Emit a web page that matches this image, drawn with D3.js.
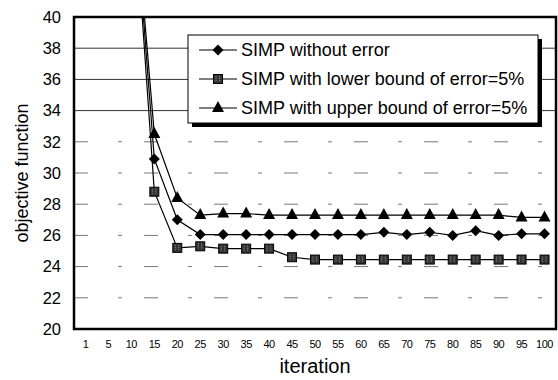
<html>
<head>
<meta charset="UTF-8">
<title>objective function</title>
<script src="https://cdn.jsdelivr.net/npm/d3@7"></script>
<style>
body{margin:0;background:#fff;}
text{font-family:"Liberation Sans",Arial,sans-serif;fill:#000;}
</style>
</head>
<body>
<svg id="chart" width="558" height="380"></svg>
<script>
// iteration categories
var iterations=["1","5","10","15","20","25","30","35","40","45","50","55","60","65","70","75","80","85","90","95","100"];
// objective function values (first points run off the top of the chart)
var noError=[120,80,50,30.9,27.0,26.05,26.05,26.05,26.05,26.05,26.05,26.05,26.05,26.2,26.05,26.2,26.0,26.3,26.0,26.1,26.1];
var lowerBound=[120,80,50,28.8,25.2,25.3,25.15,25.15,25.15,24.6,24.45,24.45,24.45,24.45,24.45,24.45,24.45,24.45,24.45,24.45,24.45];
var upperBound=[120,80,50,32.5,28.4,27.3,27.4,27.4,27.3,27.3,27.3,27.3,27.3,27.3,27.3,27.3,27.3,27.3,27.3,27.15,27.15];
var yTicks=[20,22,24,26,28,30,32,34,36,38,40];
var solidGrid=[34,36,38];
var dashGrid=[22,24,26,28,30,32];
var seriesNames=["SIMP without error","SIMP with lower bound of error=5%","SIMP with upper bound of error=5%"];

var svg=d3.select("#chart");
var pLeft=74,pRight=556,pTop=17,pBottom=329;

var x=d3.scaleBand().domain(iterations).range([pLeft,pRight]);
var y=d3.scaleLinear().domain([20,40]).range([pBottom,pTop]);

// grid
svg.selectAll("line.gs").data(solidGrid).enter().append("line")
    .attr("x1",pLeft).attr("x2",pRight)
    .attr("y1",function(d){return y(d);}).attr("y2",function(d){return y(d);})
    .attr("stroke","#333").attr("stroke-width",1);
svg.selectAll("line.gd").data(dashGrid).enter().append("line")
    .attr("x1",pLeft).attr("x2",pRight)
    .attr("y1",function(d){return y(d);}).attr("y2",function(d){return y(d);})
    .attr("stroke","#777").attr("stroke-width",1)
    .attr("stroke-dasharray","14,30,4,22");

svg.append("clipPath").attr("id","plotclip").append("rect")
    .attr("x",pLeft).attr("y",pTop).attr("width",pRight-pLeft).attr("height",pBottom-pTop);

var line=d3.line()
    .x(function(d,i){return x(iterations[i])+x.bandwidth()/2;})
    .y(function(d){return y(d);});

var plot=svg.append("g").attr("clip-path","url(#plotclip)");
var all=[noError,lowerBound,upperBound];
all.forEach(function(s){
    plot.append("path").datum(s)
        .attr("d",line).attr("fill","none")
        .attr("stroke","#000").attr("stroke-width",1.2);
});

function marker(g,kind,cx,cy){
    if(kind==0){
        g.append("path").attr("d","M"+cx+","+(cy-5.5)+"L"+(cx+5.5)+","+cy+"L"+cx+","+(cy+5.5)+"L"+(cx-5.5)+","+cy+"Z")
            .attr("fill","#000");
    }else if(kind==1){
        g.append("rect").attr("x",cx-4.5).attr("y",cy-4.5).attr("width",9).attr("height",9)
            .attr("fill","#333").attr("stroke","#000").attr("stroke-width",1);
        g.append("path").attr("d","M"+(cx-2)+","+(cy-3)+"V"+(cy+3)+"M"+(cx+1.5)+","+(cy-3)+"V"+(cy+3))
            .attr("stroke","#aaa").attr("stroke-width",0.8).attr("stroke-dasharray","1,1");
    }else{
        g.append("path").attr("d","M"+cx+","+(cy-7)+"L"+(cx+6)+","+(cy+4)+"L"+(cx-6)+","+(cy+4)+"Z")
            .attr("fill","#000");
    }
}
all.forEach(function(s,k){
    s.forEach(function(v,i){
        if(v<=40) marker(plot,k,x(iterations[i])+x.bandwidth()/2,y(v));
    });
});

// frame
svg.append("rect").attr("x",pLeft).attr("y",pTop).attr("width",pRight-pLeft).attr("height",pBottom-pTop)
    .attr("fill","none").attr("stroke","#000").attr("stroke-width",2.5);

// axes
var yAxis=svg.append("g").attr("transform","translate("+pLeft+",0)")
    .call(d3.axisLeft(y).tickValues(yTicks).tickSize(0).tickPadding(13));
yAxis.select(".domain").remove();
yAxis.selectAll("text").attr("font-size",16.5).attr("fill","#000");

var xAxis=svg.append("g").attr("transform","translate(0,"+pBottom+")")
    .call(d3.axisBottom(x).tickSize(0).tickPadding(11));
xAxis.select(".domain").remove();
xAxis.selectAll("text").attr("font-size",11).attr("fill","#000").attr("letter-spacing",-0.5);

svg.append("text").attr("x",(pLeft+pRight)/2).attr("y",373)
    .attr("text-anchor","middle").attr("font-size",20).text("iteration");
svg.append("text").attr("transform","translate(28,"+((pTop+pBottom)/2)+") rotate(-90)")
    .attr("text-anchor","middle").attr("font-size",18).text("objective function");

// legend
var lg=svg.append("g");
lg.append("rect").attr("x",192).attr("y",39).attr("width",350).attr("height",88).attr("fill","#000");
lg.append("rect").attr("x",188).attr("y",35).attr("width",350).attr("height",88)
    .attr("fill","#fff").attr("stroke","#000").attr("stroke-width",1);
seriesNames.forEach(function(n,k){
    var ly=50+k*29;
    lg.append("line").attr("x1",199).attr("x2",237).attr("y1",ly).attr("y2",ly)
        .attr("stroke","#000").attr("stroke-width",1.2);
    marker(lg,k,218,ly);
    lg.append("text").attr("x",241).attr("y",ly+6).attr("font-size",18).text(n);
});
</script>
</body>
</html>
